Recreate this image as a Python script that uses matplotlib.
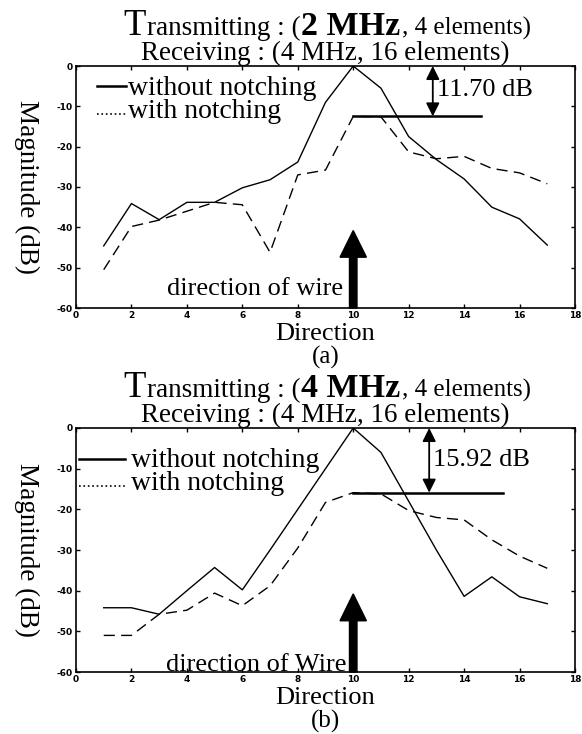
import numpy as np
import matplotlib
matplotlib.use("Agg")
import matplotlib.pyplot as plt

plt.rcParams['axes.unicode_minus'] = False

SERIF = 'Liberation Serif'
W, H = 582, 734

# direction index (1..17)
direction = np.arange(1, 18)

# panel (a): transmitting 2 MHz
a_without = [-44.6, -34.1, -38.1, -33.8, -33.8, -30.2, -28.2, -23.8, -9.0, 0.0,
             -5.5, -17.5, -23.2, -28.0, -35.0, -37.9, -44.4]
a_with = [-50.5, -39.8, -38.2, -36.0, -33.8, -34.4, -46.2, -27.0, -25.8, -12.5,
          -12.6, -21.3, -23.0, -22.4, -25.4, -26.5, -29.2]

# panel (b): transmitting 4 MHz
b_without = [-44.2, -44.2, -45.8, -40.0, -34.3, -39.8, -30.0, -20.0, -10.0, 0.0,
             -6.0, -18.0, -30.0, -41.4, -36.6, -41.5, -43.2]
b_with = [-51.0, -51.0, -45.8, -44.8, -40.6, -43.7, -38.8, -29.5, -18.3, -15.9,
          -16.2, -20.3, -22.0, -22.6, -27.5, -31.5, -34.5]

gap_labels = ['11.70 dB', '15.92 dB']
wire_labels = ['direction of wire', 'direction of Wire']
tx_freqs = ['2 MHz', '4 MHz']
panel_tags = ['(a)', '(b)']

xticks = np.arange(0, 19, 2)
yticks = np.arange(-60, 1, 10)


def px(x, y):
    return x / W, 1 - y / H


def rich_line(fig, pieces, xc, base):
    r = fig.canvas.get_renderer()
    objs = []
    for s, size, weight in pieces:
        objs.append(fig.text(0, 1 - base / H, s, fontsize=size, fontweight=weight,
                             family=SERIF, va='baseline', ha='left'))
    widths = [t.get_window_extent(r).width for t in objs]
    x = xc - sum(widths) / 2
    for t, w in zip(objs, widths):
        t.set_x(x / W)
        x += w + 1


def panel(ax, without, with_, gap, gap_x, line_end, legend_x, legend_y, txt_x,
          wire_txt, wire_txt_x, wire_txt_y):
    ax.plot(direction, without, color='k', lw=1.0)
    ax.plot(direction, with_, color='k', lw=1.0, dashes=(8, 4.5))
    level = with_[9]

    # legend drawn by hand
    ax.plot(legend_x, [legend_y[0]] * 2, color='k', lw=1.8)
    ax.plot(legend_x, [legend_y[1]] * 2, color='k', lw=1.2, ls=':')
    ax.text(txt_x, legend_y[0] - 0.5, 'without notching', family=SERIF, fontsize=20,
            va='center')
    ax.text(txt_x, legend_y[1] + 0.6, 'with notching', family=SERIF, fontsize=20,
            va='center')

    # notch level + gap arrow
    ax.plot([10, line_end], [level, level], color='k', lw=1.8)
    ax.annotate('', xy=(gap_x, 0), xytext=(gap_x, level),
                arrowprops=dict(arrowstyle='<|-|>', color='k', lw=1.3,
                                mutation_scale=20, shrinkA=0, shrinkB=0))
    ax.text(gap_x + 0.15, level / 2 + 0.2, gap, family=SERIF, fontsize=19,
            va='center')

    # wire direction arrow
    ax.arrow(10, -60, 0, 19.2, width=0.27, head_width=0.95, head_length=6.6,
             length_includes_head=True, color='k', clip_on=False)
    ax.text(wire_txt_x, wire_txt_y, wire_txt, family=SERIF, fontsize=19,
            ha='right', va='baseline', clip_on=False)

    ax.set_xlim(0, 18)
    ax.set_ylim(-60, 0)
    ax.set_xticks(xticks)
    ax.set_yticks(yticks)
    ax.tick_params(direction='in', length=3, width=1, top=True, right=True,
                   labelsize=6.5, pad=2.5)
    for lab in ax.get_xticklabels() + ax.get_yticklabels():
        lab.set_fontweight('bold')
    for s in ax.spines.values():
        s.set_linewidth(1.2)


fig = plt.figure(figsize=(W / 100, H / 100), dpi=100)

ax1 = fig.add_axes([76 / W, 1 - 308 / H, 499 / W, 242 / H])
ax2 = fig.add_axes([76 / W, 1 - 672 / H, 499 / W, 244 / H])

panel(ax1, a_without, a_with, gap_labels[0], 12.87, 14.6, [0.75, 1.8], [-5.0, -11.8],
      1.87, wire_labels[0], 9.64, -56.7)
panel(ax2, b_without, b_with, gap_labels[1], 12.74, 15.4, [0.1, 1.77], [-7.6, -14.3],
      1.97, wire_labels[1], 9.75, -59.8)

for ax, top, bottom, freq, tag in [(ax1, 66, 308, tx_freqs[0], panel_tags[0]),
                                   (ax2, 428, 672, tx_freqs[1], panel_tags[1])]:
    xc = 76 + 499 / 2
    rich_line(fig, [('T', 26.5, 'normal'), ('ransmitting : (', 19.5, 'normal'),
                    (freq, 24.5, 'bold'), (', 4 elements)', 18, 'normal')],
              xc, top - 31)
    rich_line(fig, [('Receiving : (4 MHz, 16 elements)', 19.5, 'normal')],
              xc, top - 6)
    fig.text(*px(27, (top + bottom) / 2), 'Magnitude (dB)', rotation=-90,
             family=SERIF, fontsize=19.5, ha='center', va='center')
    fig.text(*px(xc, bottom + 26), 'Direction', family=SERIF, fontsize=19,
             ha='center', va='center')
    fig.text(*px(xc, bottom + 49), tag, family=SERIF, fontsize=18,
             ha='center', va='center')

fig.savefig('out.png', dpi=100)
